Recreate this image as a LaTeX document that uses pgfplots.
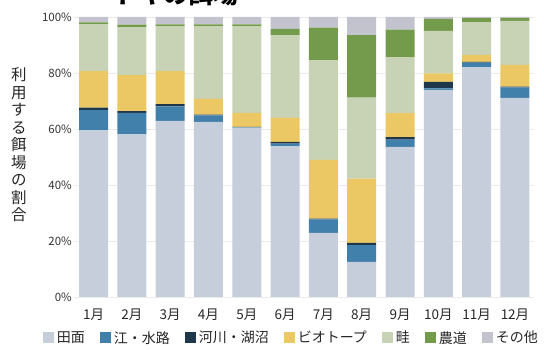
\documentclass[border=0pt]{standalone}
\usepackage{fontspec}
\setmainfont{Noto Sans CJK JP}
\usepackage{pgfplots}
\usepackage{pgfplotstable}
\pgfplotsset{compat=1.18}
\definecolor{cTamen}{HTML}{C5CEDA}
\definecolor{cE}{HTML}{4080AA}
\definecolor{cKasen}{HTML}{1E374B}
\definecolor{cBio}{HTML}{ECC864}
\definecolor{cAze}{HTML}{C8D2B4}
\definecolor{cNodo}{HTML}{739B4B}
\definecolor{cOther}{HTML}{C3C3CD}
\pgfplotstableread{
x tamen e kasen bio aze nodo other
0  59.5 7.2 0.9 13.1 16.7 0.7 1.9
1  58.1 7.7 0.6 12.8 17.2 0.9 2.7
2  62.9 5.2 0.8 11.8 16.0 0.7 2.6
3  62.5 2.4 0.2 5.7 25.9 0.7 2.6
4  60.5 0.2 0.1 5.0 30.9 0.7 2.6
5  53.9 0.9 0.6 8.6 29.5 2.3 4.2
6  22.9 4.8 0.3 21.0 35.5 11.7 3.8
7  12.5 6.0 0.8 23.0 28.9 22.3 6.5
8  53.6 2.6 0.9 8.6 20.0 9.8 4.5
9  74.0 0.5 2.3 3.1 15.1 4.3 0.7
10 82.0 1.7 0.3 2.5 11.7 1.4 0.4
11 71.1 3.8 0.2 7.8 15.7 1.0 0.4
}\data
\begin{document}
\begin{tikzpicture}[x=1pt,y=1pt]
\useasboundingbox (0,0) rectangle (544,350);
\clip (0,0) rectangle (544,350);
\node[anchor=base west, font=\fontsize{25}{25}\selectfont\bfseries] at (110,346) {トキの餌場};
\node[align=center, font=\fontsize{15.5}{17.5}\selectfont, text=black!85] at (19,205) {利\\用\\す\\る\\餌\\場\\の\\割\\合};
\begin{axis}[
  at={(74.35pt,53pt)}, anchor=south west, scale only axis,
  width=459.8pt, height=280pt,
  ybar stacked, bar width=29pt,
  xmin=-0.5, xmax=11.5, ymin=0, ymax=100,
  axis line style={draw=none}, major tick length=0pt,
  ymajorgrids, grid style={black!8},
  xtick={0,...,11},
  xticklabels={1月,2月,3月,4月,5月,6月,7月,8月,9月,10月,11月,12月},
  ytick={0,20,40,60,80,100},
  yticklabels={0\%,20\%,40\%,60\%,80\%,100\%},
  xticklabel style={font=\fontsize{13.5}{13.5}\selectfont, text=black!85, yshift=-8pt},
  yticklabel style={font=\fontsize{11.5}{11.5}\selectfont, text=black!80, xshift=1pt},
  legend columns=7,
  legend style={at={(0.472,-0.146)}, anchor=center, draw=none, fill=none,
    font=\fontsize{14}{14}\selectfont, text=black!85,
    /tikz/every even column/.append style={column sep=13pt},
    /tikz/every odd column/.append style={column sep=1pt}},
  legend image code/.code={\fill[#1] (0pt,-5.5pt) rectangle (11pt,5.5pt);},
]
\addplot[fill=cTamen, draw=none] table[x=x,y=tamen]{\data};
\addplot[fill=cE, draw=none] table[x=x,y=e]{\data};
\addplot[fill=cKasen, draw=none] table[x=x,y=kasen]{\data};
\addplot[fill=cBio, draw=none] table[x=x,y=bio]{\data};
\addplot[fill=cAze, draw=none] table[x=x,y=aze]{\data};
\addplot[fill=cNodo, draw=none] table[x=x,y=nodo]{\data};
\addplot[fill=cOther, draw=none] table[x=x,y=other]{\data};
\legend{田面,江・水路,河川・湖沼,ビオトープ,畦,農道,その他}
\end{axis}
\end{tikzpicture}
\end{document}
